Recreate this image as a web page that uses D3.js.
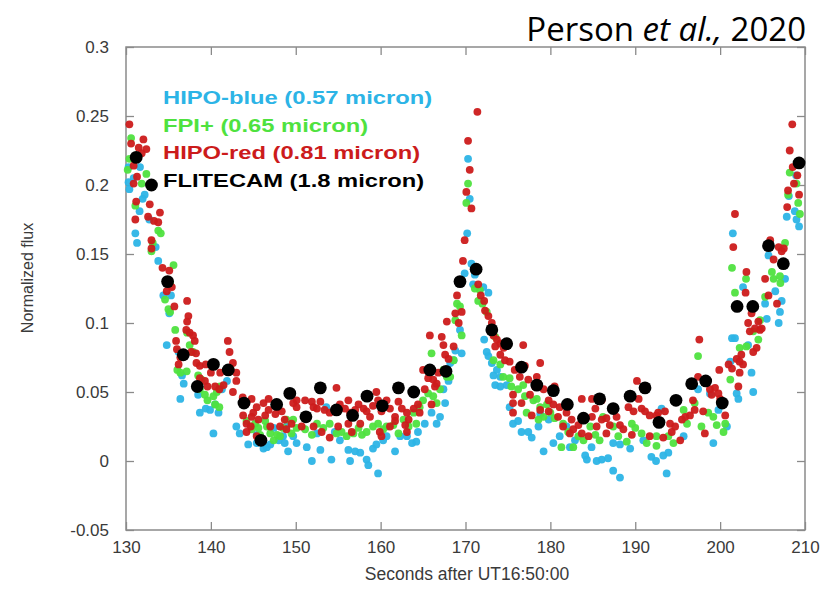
<!DOCTYPE html>
<html>
<head>
<meta charset="utf-8">
<script src="https://cdn.jsdelivr.net/npm/d3@7"></script>
<style>
  html, body { margin: 0; padding: 0; background: #ffffff; }
  svg { display: block; }
</style>
</head>
<body>
<div id="chart"></div>
<script>
// ---------------- DATA (seconds after UT16:50:00, normalized flux) ----------------
const xTicks = [130, 140, 150, 160, 170, 180, 190, 200, 210];
const xTickLabels = ["130", "140", "150", "160", "170", "180", "190", "200", "210"];
const yTicks = [-0.05, 0, 0.05, 0.1, 0.15, 0.2, 0.25, 0.3];
const yTickLabels = ["-0.05", "0", "0.05", "0.1", "0.15", "0.2", "0.25", "0.3"];

const seriesNames = ["HIPO-blue (0.57 micron)", "FPI+ (0.65 micron)", "HIPO-red (0.81 micron)", "FLITECAM (1.8 micron)"];

const hipoBlue = [
[130.3,0.213],[130.3,0.202],[130.4,0.197],[130.9,0.205],[131.65,0.213],[132.2,0.193],[131.96,0.190],[131.6,0.181],[131.1,0.165],[131.3,0.158],[132.75,0.175],[133.5,0.155],[133.8,0.145],[135.3,0.120],
[134.4,0.120],[135.1,0.107],[134.8,0.084],[136.2,0.079],[136.6,0.062],[136.8,0.056],[136.4,0.045],[138.5,0.048],[138.7,0.035],[139.4,0.038],[139.9,0.037],[140.5,0.041],[140.9,0.035],[140.3,0.020],[141.3,0.052],[141.9,0.058],[143.0,0.025],[143.4,0.020],[144.4,0.012],[145.4,0.013],[146.2,0.009],[146.6,0.010],[147.0,0.012],[148.0,0.015],[149.1,0.007],[150.1,0.013],[145.4,0.019],[148.5,0.018],[148.9,0.025],[147.4,0.024],
[148.7,0.013],[149.7,0.018],[151.3,0.010],[151.9,0.000],[152.5,0.020],[152.9,0.008],[153.6,0.039],[154.2,0.001],[154.6,0.021],[155.2,0.015],[156.2,0.008],[156.4,0.000],[157.0,0.007],[157.6,0.006],[158.35,0.001],[158.55,-0.003],[159.1,0.009],[159.5,0.012],[159.7,-0.009],[160.3,0.015],[160.7,0.018],[161.7,0.007],[162.3,0.018],[163.1,0.018],[163.7,0.013],[164.2,0.014],[164.4,0.021],[165.2,0.027],[166.0,0.035],[166.6,0.027],[167.0,0.032],[167.4,0.052],[167.6,0.042],[168.0,0.058],[168.2,0.071],[168.6,0.073],[168.8,0.080],[169.55,0.078],[169.35,0.095],
[170.3,0.219],[170.5,0.190],[170.2,0.165],[170.7,0.143],[169.9,0.136],[171.1,0.135],
[170.9,0.128],[172.1,0.126],[172.7,0.122],[172.2,0.088],[172.5,0.079],[172.7,0.076],[173.1,0.071],[173.3,0.062],[173.7,0.066],[174.1,0.061],[173.5,0.055],[174.1,0.054],[174.85,0.055],[175.6,0.027],[176.2,0.029],[176.6,0.021],[177.4,0.021],[177.8,0.017],[178.6,0.025],[179.2,0.007],[179.8,0.030],[180.35,0.013],[181.1,0.018],[182.3,0.010],[182.9,0.015],[184.1,0.004],[184.3,0.001],[184.85,0.010],[185.45,0.000],[186.05,0.001],[186.8,0.002],[187.4,-0.007],[188.2,-0.012],[187.4,0.013],[188.2,0.012],[189.4,0.009],[175.2,0.039],[178.8,0.034],[181.9,0.025],
[190.95,0.015],[191.9,0.003],[192.45,0.000],[193.3,0.004],[193.7,-0.009],[193.9,0.006],[193.1,0.038],[195.7,0.018],[197.4,0.052],[198.8,0.049],[199.2,0.013],[199.8,0.037],[200.8,0.025],[201.4,0.089],[201.75,0.089],[201.2,0.072],[201.95,0.049],[202.15,0.045],[203.3,0.084],[203.7,0.064],[203.9,0.050],[205.5,0.103],[206.9,0.100],[207.05,0.108],[207.25,0.116],[206.5,0.123],[205.3,0.114],
[201.5,0.165],[202.7,0.126],[205.7,0.149],[207.65,0.132],[207.85,0.177],[208.1,0.192],[208.8,0.181],[209.0,0.175],[209.3,0.170],[208.95,0.207]
];

const fpiPlus = [
[130.6,0.234],[130.4,0.219],[130.2,0.211],[131.85,0.201],[132.4,0.208],[131.1,0.185],[133.8,0.167],[134.1,0.165],[133.15,0.158],[133.0,0.152],[135.6,0.142],[134.6,0.117],[135.2,0.129],
[135.0,0.110],[135.2,0.108],[135.8,0.095],[137.2,0.093],[137.5,0.084],[137.9,0.079],[136.05,0.066],[136.4,0.064],[137.15,0.065],[138.5,0.062],[138.9,0.059],[138.7,0.052],[139.3,0.048],[139.6,0.044],[140.3,0.047],[140.7,0.050],[141.1,0.054],[140.5,0.041],[141.0,0.039],[144.2,0.029],[145.2,0.027],[145.6,0.024],[146.4,0.029],[147.0,0.020],[147.8,0.019],[148.5,0.024],[148.9,0.030],[149.5,0.020],[150.1,0.024],[144.8,0.023],[145.8,0.019],[147.4,0.015],[146.6,0.025],[148.15,0.018],
[149.7,0.030],[151.1,0.023],[151.9,0.019],[152.5,0.027],[153.25,0.024],[154.0,0.027],[154.8,0.020],[155.4,0.021],[156.0,0.018],[156.8,0.020],[157.4,0.024],[157.8,0.019],[158.35,0.021],[159.1,0.025],[159.7,0.027],[160.3,0.023],[160.7,0.025],[161.5,0.026],[162.1,0.020],[162.7,0.030],[163.3,0.025],[163.9,0.035],[164.2,0.027],[164.6,0.039],[165.0,0.044],[165.6,0.049],[166.0,0.078],[166.2,0.047],[166.6,0.042],[167.0,0.052],[167.4,0.066],[167.8,0.061],[168.2,0.061],[168.6,0.073],[168.8,0.102],[169.0,0.114],[169.35,0.112],[169.55,0.091],
[170.3,0.201],[170.1,0.187],
[171.1,0.125],[171.5,0.116],[172.0,0.114],[172.5,0.108],[171.7,0.124],[173.1,0.097],[173.5,0.090],[173.3,0.073],[174.1,0.070],[174.45,0.061],[175.2,0.060],[175.4,0.054],[176.2,0.052],[176.8,0.055],[177.0,0.047],[178.0,0.044],[178.4,0.045],[178.8,0.039],[179.6,0.041],[180.0,0.035],[179.2,0.032],[180.5,0.031],[181.5,0.027],[182.1,0.021],[182.7,0.010],[183.3,0.018],[183.9,0.015],[184.7,0.025],[185.3,0.019],[185.8,0.015],[186.2,0.032],[187.4,0.025],[188.0,0.018],[189.0,0.014],[189.6,0.027],[190.0,0.024],[190.75,0.020],[191.35,0.013],[192.5,0.011],[181.3,0.010],[178.6,0.030],[177.2,0.035],
[192.5,0.018],[193.9,0.018],[194.5,0.013],[195.7,0.037],[196.1,0.027],[197.0,0.042],[197.4,0.076],[197.8,0.025],[198.6,0.035],[199.2,0.032],[199.6,0.026],[200.4,0.021],[200.6,0.027],[201.2,0.059],[201.75,0.122],[202.3,0.082],[203.1,0.083],[203.9,0.094],[204.5,0.088],[204.7,0.102],[205.3,0.119],[207.1,0.129],
[201.4,0.140],[203.05,0.132],[206.1,0.137],[206.3,0.132],[207.05,0.134],[207.65,0.158],[208.2,0.209],[209.0,0.201],[209.2,0.187],[209.4,0.179],[208.0,0.193]
];

const hipoRed = [
[130.4,0.244],[130.6,0.230],[132.05,0.233],[131.5,0.227],[132.4,0.226],[131.85,0.223],[130.9,0.214],[131.3,0.206],[130.9,0.201],[131.2,0.188],[132.8,0.186],[131.1,0.175],[134.0,0.180],[132.6,0.177],[133.3,0.174],[133.8,0.173],[133.0,0.160],[133.0,0.154],[134.3,0.140],[135.1,0.138],[134.8,0.123],[135.4,0.126],[137.2,0.116],
[135.7,0.112],[137.35,0.105],[137.2,0.101],[137.1,0.095],[137.5,0.093],[137.9,0.091],[138.1,0.087],[135.9,0.087],[136.0,0.081],[136.4,0.075],[136.2,0.070],[137.7,0.079],[138.25,0.078],[138.3,0.071],[138.7,0.069],[139.4,0.070],[140.0,0.064],[141.1,0.064],[138.7,0.060],[139.3,0.058],[139.6,0.054],[140.5,0.054],[141.0,0.052],[141.5,0.055],[142.0,0.087],[142.2,0.079],[142.6,0.071],[143.0,0.064],[143.0,0.058],[142.6,0.050],[143.75,0.046],[144.2,0.042],[143.8,0.033],[144.2,0.027],[144.8,0.045],[145.0,0.035],[145.4,0.039],[144.8,0.032],[144.7,0.025],[145.6,0.030],[146.4,0.033],[146.8,0.037],[147.6,0.034],[146.2,0.042],[146.8,0.045],[147.8,0.039],[148.35,0.036],[148.7,0.030],[149.5,0.027],[148.9,0.023],[150.1,0.044],[150.1,0.039],[144.2,0.021],[145.4,0.018],[147.0,0.025],[148.15,0.025],
[149.7,0.042],[151.1,0.044],[151.9,0.043],[152.1,0.039],[152.5,0.038],[152.9,0.043],[153.4,0.037],[154.0,0.035],[154.6,0.038],[154.8,0.053],[155.2,0.041],[155.8,0.038],[156.2,0.044],[156.4,0.035],[157.0,0.037],[157.4,0.041],[158.0,0.038],[158.35,0.036],[158.75,0.032],[159.1,0.040],[159.5,0.050],[159.7,0.044],[160.1,0.036],[160.7,0.044],[161.1,0.038],[161.7,0.032],[162.1,0.043],[162.5,0.038],[163.1,0.035],[163.3,0.030],[163.9,0.038],[164.4,0.041],[164.6,0.035],[165.0,0.066],[165.2,0.052],[165.6,0.060],[165.8,0.091],[166.0,0.041],[166.2,0.059],[166.4,0.054],[166.6,0.056],[166.8,0.064],[167.2,0.090],[167.4,0.084],[167.6,0.077],[167.8,0.101],[168.0,0.074],[168.6,0.083],[168.8,0.107],[169.0,0.120],[169.2,0.100],[169.55,0.108],[150.7,0.025],[152.1,0.025],[153.05,0.021],[154.0,0.017],[155.0,0.025],[156.2,0.027],[156.6,0.021],[157.6,0.027],[159.9,0.021],[160.1,0.018],[161.1,0.025],[161.7,0.029],[162.9,0.026],[163.1,0.021],
[171.4,0.253],[170.3,0.232],[170.5,0.211],[170.1,0.195],[170.7,0.183],[169.9,0.160],[169.7,0.145],
[171.5,0.128],[171.8,0.120],[172.2,0.116],[172.3,0.109],[172.7,0.105],[173.1,0.100],[173.3,0.091],[173.7,0.088],[174.1,0.085],[173.5,0.083],[174.5,0.082],[176.8,0.084],[174.1,0.077],[174.65,0.073],[175.2,0.072],[175.8,0.066],[177.0,0.069],[176.4,0.061],[178.8,0.071],[178.4,0.061],[177.4,0.059],[178.2,0.054],[177.6,0.048],[175.6,0.048],[175.6,0.042],[175.6,0.035],[176.6,0.042],[179.2,0.052],[179.8,0.044],[180.5,0.054],[180.35,0.041],[181.1,0.039],[181.9,0.035],[180.9,0.032],[177.8,0.033],[178.8,0.037],[179.8,0.036],[181.5,0.025],[182.5,0.030],[182.7,0.023],[183.3,0.026],[183.7,0.045],[184.5,0.018],[184.9,0.045],[185.3,0.038],[186.05,0.044],[185.45,0.025],[186.05,0.030],[186.6,0.020],[187.0,0.026],[187.8,0.032],[188.2,0.026],[188.6,0.023],[189.2,0.039],[189.8,0.036],[190.2,0.058],[190.4,0.045],[190.75,0.038],[191.15,0.036],[191.7,0.033],[192.5,0.033],[189.6,0.019],[191.7,0.018],[182.3,0.020],[183.7,0.020],[186.6,0.031],[184.9,0.032],
[192.7,0.035],[193.5,0.036],[193.3,0.017],[194.3,0.021],[194.1,0.027],[194.7,0.025],[195.3,0.015],[195.5,0.030],[195.9,0.032],[196.45,0.033],[197.0,0.037],[196.8,0.044],[197.55,0.088],[197.4,0.061],[198.0,0.036],[198.2,0.020],[198.8,0.052],[199.0,0.048],[199.4,0.053],[199.8,0.049],[200.0,0.045],[199.9,0.066],[200.6,0.033],[201.0,0.070],[201.4,0.067],[201.95,0.074],[202.3,0.072],[202.5,0.077],[202.7,0.070],[202.3,0.064],[202.15,0.054],[203.0,0.122],[203.7,0.107],[203.3,0.100],[203.5,0.094],[204.1,0.096],[204.5,0.101],[204.7,0.095],[204.9,0.096],[203.9,0.079],[204.3,0.082],[205.7,0.120],[206.7,0.114],
[201.75,0.179],[201.55,0.155],[203.1,0.137],[205.3,0.132],[205.9,0.160],[206.3,0.146],[206.9,0.155],[207.5,0.154],[207.25,0.152],[208.5,0.244],[208.2,0.225],[208.55,0.213],[209.1,0.207],[208.7,0.201],[208.0,0.196],[209.3,0.193],[207.9,0.184]
];

const flitecam = [
[131.2,0.220],[133.0,0.200],[134.9,0.130],[136.75,0.077],[138.4,0.054],[140.3,0.070],[142.05,0.066],[143.9,0.042],[145.9,0.015],[147.75,0.041],[149.3,0.049],[151.2,0.032],[152.9,0.053],[154.8,0.037],[156.7,0.033],[158.4,0.047],[160.2,0.040],[162.1,0.053],[163.9,0.050],[165.8,0.066],[167.7,0.065],[169.35,0.130],[171.25,0.139],[173.1,0.095],[174.85,0.085],[176.6,0.068],[178.4,0.055],[180.35,0.051],[182.0,0.041],[183.9,0.031],[185.8,0.045],[187.4,0.038],[189.4,0.047],[191.15,0.053],[192.8,0.028],[194.8,0.044],[196.65,0.056],[198.3,0.058],[200.25,0.042],[202.0,0.112],[203.85,0.112],[205.7,0.156],[207.45,0.143],[209.3,0.216]
];

const seriesColors = ["#2cb4e6", "#4fe23f", "#cc1b1b", "#000000"];

// ---------------- CHART ----------------
const W = 829, H = 597;
const plot = { left: 126, right: 805, top: 47, bottom: 530 };

const svg = d3.select("#chart").append("svg")
  .attr("width", W).attr("height", H)
  .attr("viewBox", `0 0 ${W} ${H}`);

const x = d3.scaleLinear().domain([130, 210]).range([plot.left, plot.right]);
const y = d3.scaleLinear().domain([-0.05, 0.3]).range([plot.bottom, plot.top]);

const axisColor = "#8a8a8a";
const tickFont = "'Liberation Sans', Arial, sans-serif";

// Axes (ticks pointing inward)
const gx = svg.append("g").attr("transform", `translate(0,${plot.bottom})`)
  .call(d3.axisBottom(x).tickValues(xTicks).tickSize(-8).tickPadding(11)
    .tickFormat((d, i) => xTickLabels[i]));
const gxTop = svg.append("g").attr("transform", `translate(0,${plot.top})`)
  .call(d3.axisTop(x).tickValues(xTicks).tickSize(-8).tickFormat(""));
const gy = svg.append("g").attr("transform", `translate(${plot.left},0)`)
  .call(d3.axisLeft(y).tickValues(yTicks).tickSize(-8).tickPadding(17)
    .tickFormat((d, i) => yTickLabels[i]));
const gyRight = svg.append("g").attr("transform", `translate(${plot.right},0)`)
  .call(d3.axisRight(y).tickValues(yTicks).tickSize(-8).tickFormat(""));

[gx, gxTop, gy, gyRight].forEach(g => {
  g.select(".domain").remove();
  g.selectAll(".tick line").attr("stroke", axisColor).attr("stroke-width", 1.3);
  g.selectAll(".tick text")
    .attr("fill", "#3a3a3a")
    .style("font-family", tickFont)
    .style("font-size", "17px");
});

// Frame
svg.append("rect")
  .attr("x", plot.left).attr("y", plot.top)
  .attr("width", plot.right - plot.left).attr("height", plot.bottom - plot.top)
  .attr("fill", "none").attr("stroke", axisColor).attr("stroke-width", 1.5);

// Scatter series
const pointsLayer = svg.append("g");
const colored = [hipoBlue, fpiPlus, hipoRed];
colored.forEach((data, si) => {
  pointsLayer.append("g").selectAll("circle").data(data).join("circle")
    .attr("cx", d => x(d[0]))
    .attr("cy", d => y(d[1]))
    .attr("r", 3.9)
    .attr("fill", seriesColors[si])
    .attr("opacity", 0.95);
});
pointsLayer.append("g").selectAll("circle").data(flitecam).join("circle")
  .attr("cx", d => x(d[0]))
  .attr("cy", d => y(d[1]))
  .attr("r", 6.4)
  .attr("fill", seriesColors[3]);

// Legend
const legend = svg.append("g");
seriesNames.forEach((name, i) => {
  legend.append("text")
    .attr("transform", `translate(163,${104 + i * 27.7}) scale(1.25,1)`)
    .attr("fill", seriesColors[i])
    .style("font-family", tickFont)
    .style("font-weight", "bold")
    .style("font-size", "19px")
    .text(name);
});

// Axis titles
svg.append("text")
  .attr("transform", "translate(33,278) rotate(-90)")
  .attr("text-anchor", "middle")
  .attr("fill", "#3a3a3a")
  .style("font-family", tickFont)
  .style("font-size", "16px")
  .text("Normalized flux");

svg.append("text")
  .attr("x", 467).attr("y", 580)
  .attr("text-anchor", "middle")
  .attr("fill", "#3a3a3a")
  .style("font-family", tickFont)
  .style("font-size", "17.5px")
  .text("Seconds after UT16:50:00");

// Citation
const cite = svg.append("text")
  .attr("x", 806).attr("y", 41)
  .attr("text-anchor", "end")
  .attr("fill", "#000")
  .style("font-family", "'Open Sans', 'Noto Sans', sans-serif")
  .style("font-size", "33px");
cite.append("tspan").text("Person ");
cite.append("tspan").style("font-style", "italic").text("et al.,");
cite.append("tspan").text(" 2020");
</script>
</body>
</html>
